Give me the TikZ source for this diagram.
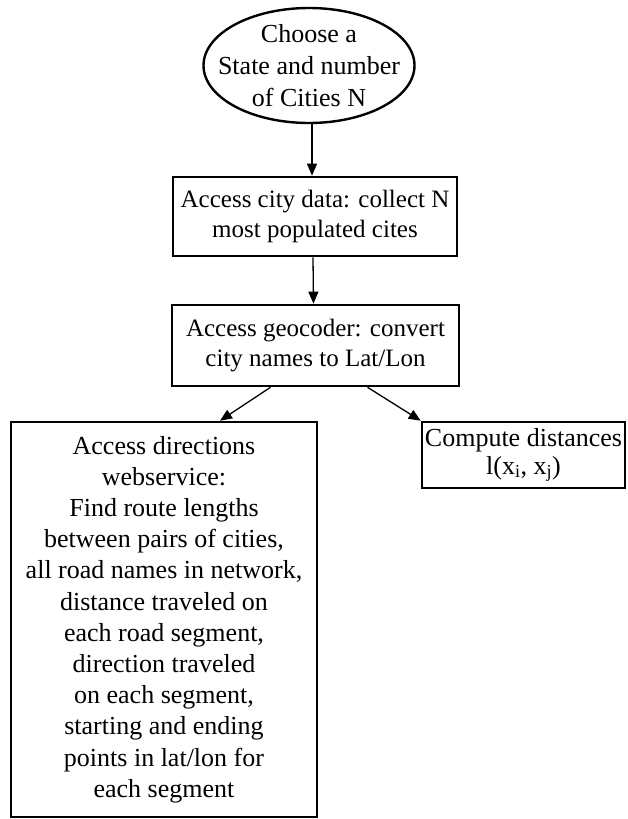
\documentclass[tikz,border=0pt]{standalone}
\usepackage{fontspec}
\setmainfont{Liberation Serif}
\usetikzlibrary{shapes.geometric,arrows.meta}
\begin{document}
\begin{tikzpicture}[x=1pt,y=-1pt,
  boxstyle/.style={draw,line width=2.6pt,inner sep=0pt,align=center,
    font=\fontsize{25}{30.5}\selectfont},
  txt/.style={inner sep=0pt,align=center},
  arr/.style={line width=1.3pt,-{Triangle[length=12pt,width=10pt]}}]
\useasboundingbox (0,0) rectangle (627,819);
\node[draw,ellipse,line width=2.4pt,inner sep=0pt,minimum width=211pt,minimum height=115pt] (e) at (309,65.5) {};
\node[txt,font=\fontsize{26}{32}\selectfont] (et) at (e.center) {Choose a\\State and number\\of Cities N};
\node[boxstyle,minimum width=284pt,minimum height=79pt] (b2) at (315,216.5)
  {Access city data: collect N\\most populated cites};
\node[boxstyle,minimum width=287pt,minimum height=81pt] (b3) at (315.5,345.5)
  {Access geocoder: convert\\city names to Lat/Lon};
\node[boxstyle,minimum width=306pt,minimum height=395pt,font=\fontsize{26}{31.2}\selectfont] (b4) at (164,619.5)
  {Access directions\\webservice:\\Find route lengths\\between pairs of cities,\\all road names in network,\\distance traveled on\\each road segment,\\direction traveled\\on each segment,\\starting and ending\\points in lat/lon for\\each segment};
\node[boxstyle,minimum width=203pt,minimum height=66pt,font=\fontsize{26}{28}\selectfont] (b5) at (523.5,455)
  {Compute distances\\l(x\textsubscript{i}, x\textsubscript{j})};
\draw[arr] ([xshift=3pt]e.south) -- ([xshift=3pt]e.south |- b2.north);
\draw[arr] ([xshift=-2pt]b2.south) -- ([xshift=-2pt]b3.north);
\draw[arr] ([xshift=-45pt]b3.south) -- ([xshift=56pt]b4.north);
\draw[arr] ([xshift=52pt]b3.south) -- (b5.north west);
\end{tikzpicture}
\end{document}
